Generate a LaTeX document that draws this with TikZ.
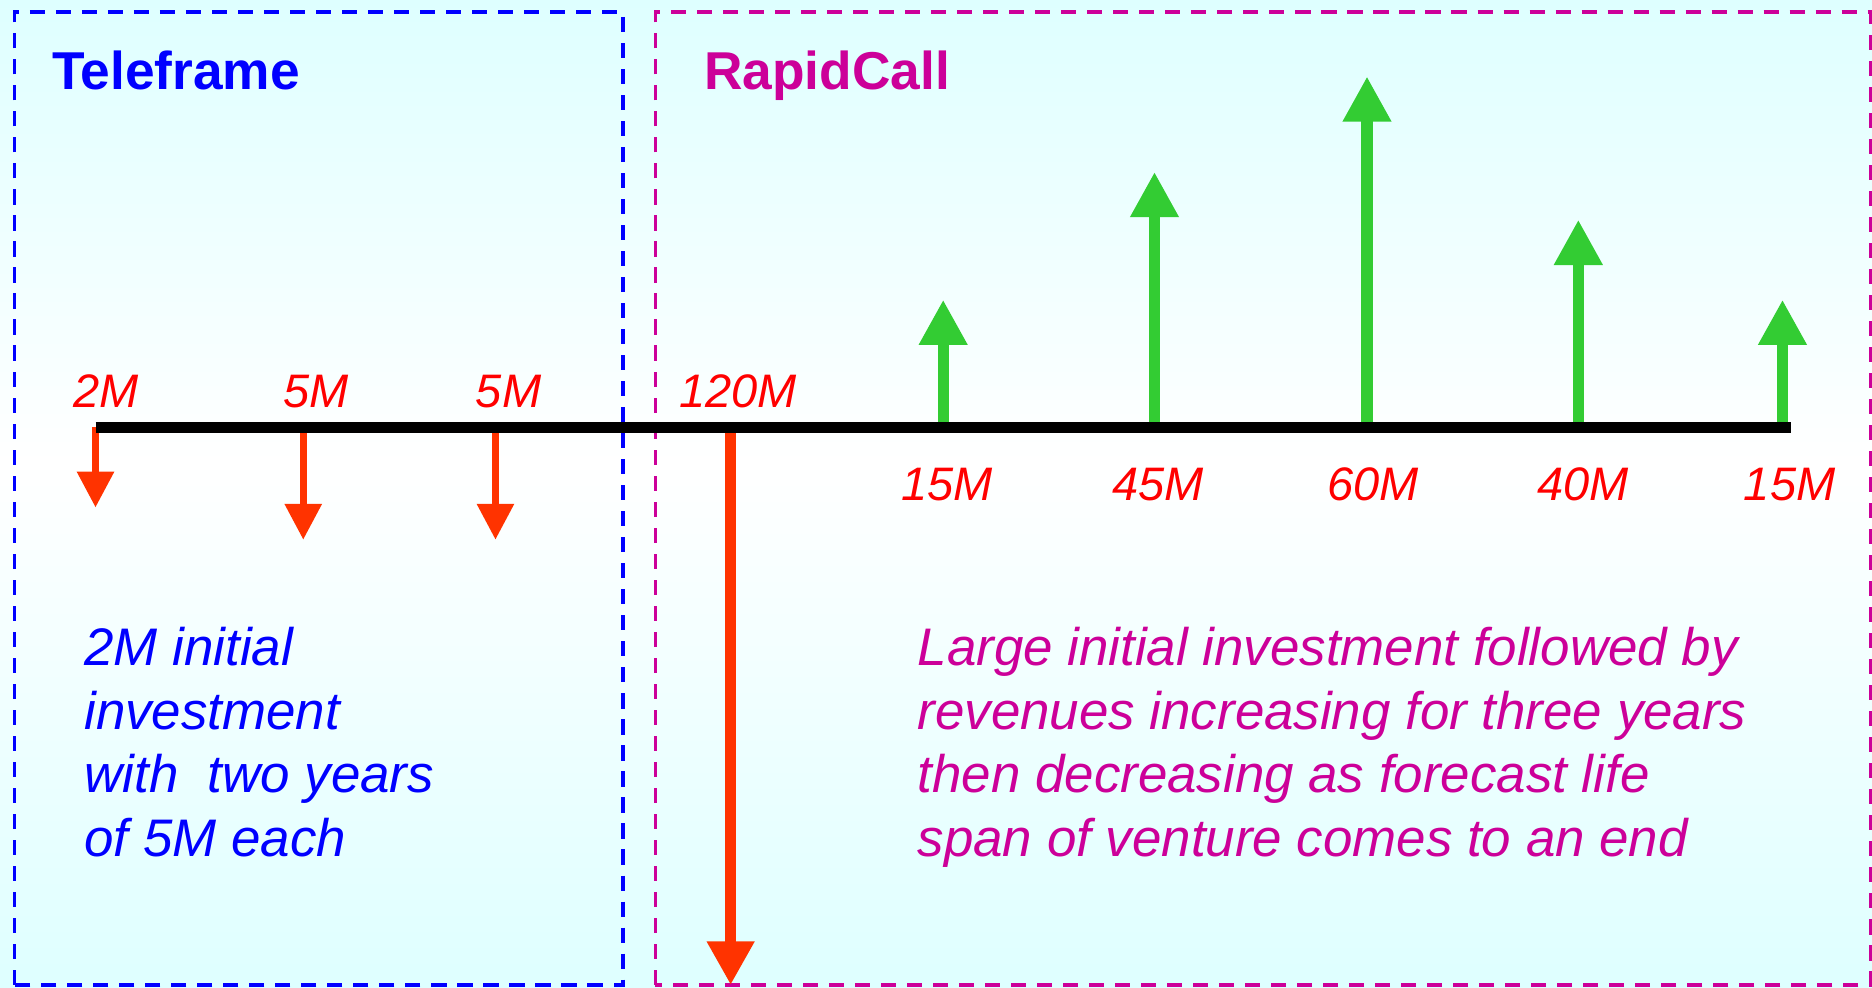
\documentclass[tikz,border=0pt]{standalone}
\usepackage{fontspec}
\setmainfont{Liberation Sans}
\usetikzlibrary{arrows.meta}
\definecolor{tfblue}{RGB}{0,0,255}
\definecolor{rcmagenta}{RGB}{204,0,153}
\definecolor{flowred}{RGB}{255,51,0}
\definecolor{amountred}{RGB}{255,0,0}
\definecolor{flowgreen}{RGB}{51,204,51}
\definecolor{bgcyan}{RGB}{222,255,255}
\tikzset{
  outflow/.style={draw=flowred, line width=1.6pt, -{Triangle[width=8.5pt,length=8.5pt]}},
  bigout/.style={draw=flowred, line width=2.7pt, -{Triangle[width=10.7pt,length=10.4pt]}},
  inflow/.style={draw=flowgreen, line width=2.7pt, -{Triangle[width=10.9pt,length=10.8pt]}},
  amount/.style={font=\fontsize{11.2}{13}\selectfont\itshape, text=amountred, inner sep=0pt, anchor=base},
  venture/.style={font=\fontsize{12.7}{15}\selectfont\bfseries, inner sep=0pt, anchor=base west},
  note/.style={font=\fontsize{12.6}{15.1}\selectfont\itshape, align=left, inner sep=0pt, anchor=north west},
  ventbox/.style={dash pattern=on 3.6pt off 2.6pt, line width=0.85pt}
}
\begin{document}
\begin{tikzpicture}
	\useasboundingbox (0,0) rectangle (15.68,8.27);
	\shade [top color=bgcyan, bottom color=white] (0,4.4) rectangle (15.68,8.27);
	\shade [top color=white, bottom color=bgcyan] (0,0) rectangle (15.68,4.4);
	% the two ventures
	\draw [ventbox, tfblue] (0.12,0.02) rectangle (5.22,8.17);
	\draw [ventbox, rcmagenta] (5.49,0.02) rectangle (15.67,8.17);
	\node [venture, text=tfblue] (teleframe) at (0.43,7.52) {Teleframe};
	\node [venture, text=rcmagenta] (rapidcall) at (5.89,7.52) {RapidCall};
	% points on the time line
	\coordinate (p0) at (0.80,4.69);
	\coordinate (p1) at (2.54,4.69);
	\coordinate (p2) at (4.15,4.69);
	\coordinate (p3) at (6.12,4.69);
	\coordinate (p4) at (7.90,4.69);
	\coordinate (p5) at (9.67,4.69);
	\coordinate (p6) at (11.45,4.69);
	\coordinate (p7) at (13.22,4.69);
	\coordinate (p8) at (14.93,4.69);
	\coordinate (pend) at (15.00,4.69);
	% outgoing cash
	\coordinate (d0) at (0.80,4.02);
	\coordinate (d1) at (2.54,3.75);
	\coordinate (d2) at (4.15,3.75);
	\coordinate (d3) at (6.12,0.02);
	\draw [outflow] (p0) -- (d0);
	\draw [outflow] (p1) -- (d1);
	\draw [outflow] (p2) -- (d2);
	\draw [bigout] (p3) -- (d3);
	% incoming cash
	\coordinate (u4) at (7.90,5.76);
	\coordinate (u5) at (9.67,6.83);
	\coordinate (u6) at (11.45,7.63);
	\coordinate (u7) at (13.22,6.43);
	\coordinate (u8) at (14.93,5.76);
	\draw [inflow] (p4) -- (u4);
	\draw [inflow] (p5) -- (u5);
	\draw [inflow] (p6) -- (u6);
	\draw [inflow] (p7) -- (u7);
	\draw [inflow] (p8) -- (u8);
	\draw [line width=2.6pt] (p0) -- (pend);
	% amounts
	\node [amount] (a0) at (0.89,4.86) {2M};
	\node [amount] (a1) at (2.65,4.86) {5M};
	\node [amount] (a2) at (4.26,4.86) {5M};
	\node [amount] (a3) at (6.18,4.86) {120M};
	\node [amount] (a4) at (7.93,4.08) {15M};
	\node [amount] (a5) at (9.70,4.08) {45M};
	\node [amount] (a6) at (11.50,4.08) {60M};
	\node [amount] (a7) at (13.26,4.08) {40M};
	\node [amount] (a8) at (14.99,4.08) {15M};
	% notes
	\node [note, text=tfblue] (tfnote) at (0.70,3.02) {2M initial\\investment\\with~ two years\\of 5M each};
	\node [note, text=rcmagenta] (rcnote) at (7.68,3.02) {Large initial investment followed by\\revenues increasing for three years\\then decreasing as forecast life\\span of venture comes to an end};
\end{tikzpicture}
\end{document}
